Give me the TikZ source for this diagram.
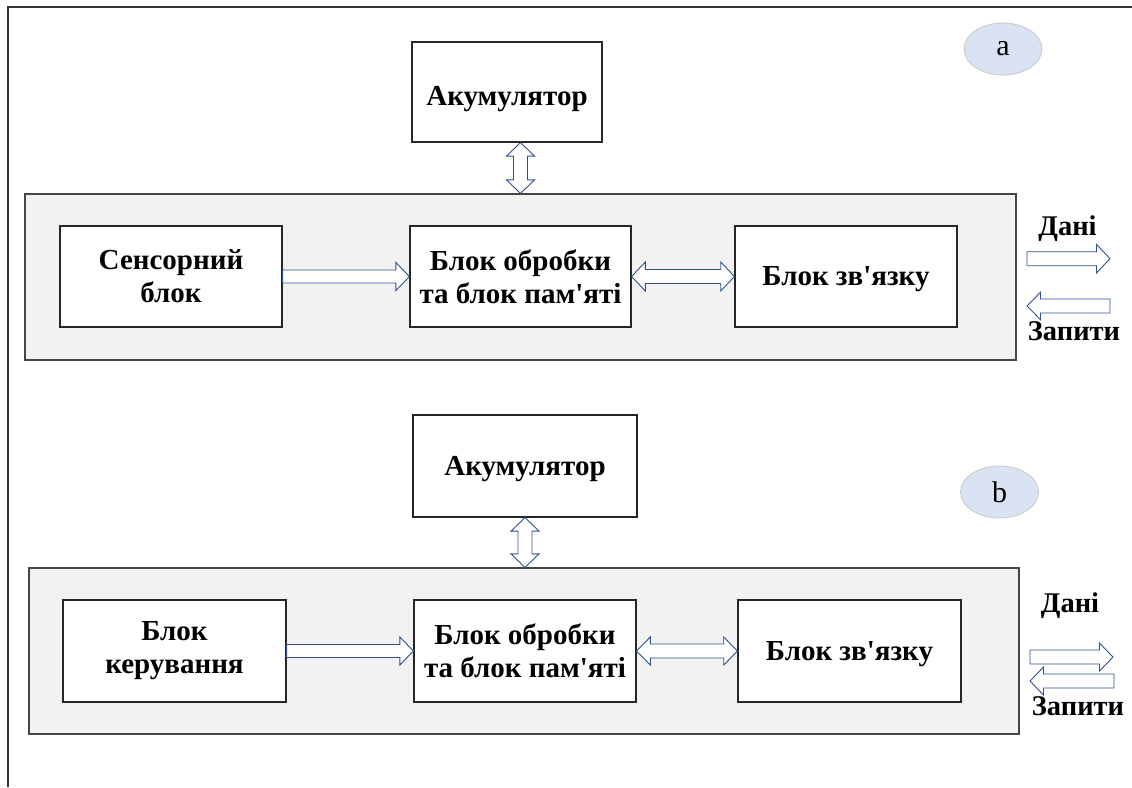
\documentclass[tikz,border=0pt]{standalone}
\usepackage{fontspec}
\setmainfont{Liberation Serif}[Ligatures=TeXOff]
\usetikzlibrary{calc,shapes.geometric}

\definecolor{arrowblue}{RGB}{47,82,143}
\definecolor{panelgrey}{RGB}{242,242,242}
\definecolor{panelline}{RGB}{70,70,70}
\definecolor{tagfill}{RGB}{218,227,243}
\definecolor{tagline}{RGB}{200,200,200}

\tikzset{
  block/.style={draw=black!85, line width=1.2pt, fill=white, inner sep=0pt,
    align=center, font=\fontsize{29}{33}\selectfont\bfseries},
  oneline/.style={text depth=0pt},
  panel/.style={draw=panelline, line width=1.2pt, fill=panelgrey, inner sep=0pt},
  tag/.style={ellipse, draw=tagline, line width=0.8pt, fill=tagfill, inner sep=0pt,
    minimum width=78pt, minimum height=52pt, font=\fontsize{30}{32}\selectfont},
  barrow/.style={draw=arrowblue, line width=0.9pt, fill=white, line join=miter},
  flowlabel/.style={anchor=base, inner sep=0pt, font=\fontsize{28.5}{32}\selectfont\bfseries},
  frameline/.style={draw=black!80, line width=1.6pt}
}

% horizontal single block arrow: #1 tail, #2 tip, #3 shaft half-height,
% #4 head half-height, #5 head length
\newcommand{\blockarrowH}[5]{%
  \draw[barrow] let \p1=(#1), \p2=(#2), \n1={sign(\x2-\x1)} in
    (\x1,\y1+#3) -- ({\x2-\n1*#5},\y1+#3) -- ({\x2-\n1*#5},\y1+#4) -- (\x2,\y1)
    -- ({\x2-\n1*#5},\y1-#4) -- ({\x2-\n1*#5},\y1-#3) -- (\x1,\y1-#3) -- cycle;}

% horizontal double block arrow between #1 and #2
\newcommand{\blockarrowHH}[5]{%
  \draw[barrow] let \p1=(#1), \p2=(#2), \n1={sign(\x2-\x1)} in
    (\x1,\y1) -- ({\x1+\n1*#5},\y1+#4) -- ({\x1+\n1*#5},\y1+#3)
    -- ({\x2-\n1*#5},\y1+#3) -- ({\x2-\n1*#5},\y1+#4) -- (\x2,\y1)
    -- ({\x2-\n1*#5},\y1-#4) -- ({\x2-\n1*#5},\y1-#3)
    -- ({\x1+\n1*#5},\y1-#3) -- ({\x1+\n1*#5},\y1-#4) -- cycle;}

% vertical double block arrow between #1 and #2
\newcommand{\blockarrowVV}[5]{%
  \draw[barrow] let \p1=(#1), \p2=(#2), \n1={sign(\y2-\y1)} in
    (\x1,\y1) -- (\x1+#4,{\y1+\n1*#5}) -- (\x1+#3,{\y1+\n1*#5})
    -- (\x1+#3,{\y2-\n1*#5}) -- (\x1+#4,{\y2-\n1*#5}) -- (\x1,\y2)
    -- (\x1-#4,{\y2-\n1*#5}) -- (\x1-#3,{\y2-\n1*#5})
    -- (\x1-#3,{\y1+\n1*#5}) -- (\x1-#4,{\y1+\n1*#5}) -- cycle;}

\begin{document}
\begin{tikzpicture}[x=1pt,y=-1pt]
  \useasboundingbox (0,0) rectangle (1132,787);

  % outer frame (top and left edges)
  \draw[frameline] (8,787) -- (8,7) -- (1132,7);

  % ---------- variant a ----------
  \node[tag] (tagA) at (1003,49) {a};
  \node[block, oneline, text height=27pt, minimum width=190pt, minimum height=100pt] (akuA) at (507,92) {Акумулятор};
  \node[panel, minimum width=991pt, minimum height=166pt] (groupA) at (520.5,277) {};
  \node[block, minimum width=222pt, minimum height=101pt] (sensA) at (171,276.5) {Сенсорний\\блок};
  \node[block, minimum width=221pt, minimum height=101pt] (procA) at (520.5,276.5) {Блок обробки\\та блок пам'яті};
  \node[block, oneline, minimum width=222pt, minimum height=101pt] (linkA) at (846,276.5) {Блок зв'язку};

  \blockarrowVV{akuA.south -| procA.north}{groupA.north -| procA.north}{7pt}{14pt}{13.5pt}
  \blockarrowH{sensA.east}{procA.west}{6.5pt}{14pt}{13.5pt}
  \blockarrowHH{procA.east}{linkA.west}{7pt}{14.5pt}{13.7pt}

  \coordinate (dataA0) at (1027,258.7);
  \coordinate (dataA1) at (1110,258.7);
  \coordinate (reqA0) at (1110,306);
  \coordinate (reqA1) at (1027,306);
  \blockarrowH{dataA0}{dataA1}{7pt}{14.3pt}{13.5pt}
  \blockarrowH{reqA0}{reqA1}{7pt}{13.7pt}{13.5pt}
  \node[flowlabel] (dataAlbl) at (1067.5,235) {Дані};
  \node[flowlabel] (reqAlbl) at (1074,340) {Запити};

  % ---------- variant b ----------
  \node[tag] (tagB) at (999.5,492) {b};
  \node[block, oneline, minimum width=224pt, minimum height=102pt] (akuB) at (525,466) {Акумулятор};
  \node[panel, minimum width=990pt, minimum height=166pt] (groupB) at (524,651) {};
  \node[block, minimum width=223pt, minimum height=102pt] (ctrlB) at (174.5,651) {Блок\\керування};
  \node[block, minimum width=222pt, minimum height=102pt] (procB) at (525,651) {Блок обробки\\та блок пам'яті};
  \node[block, oneline, minimum width=223pt, minimum height=102pt] (linkB) at (849.5,651) {Блок зв'язку};

  \blockarrowVV{akuB.south -| procB.north}{groupB.north -| procB.north}{7pt}{14pt}{13.5pt}
  \blockarrowH{ctrlB.east}{procB.west}{6.5pt}{14pt}{13.5pt}
  \blockarrowHH{procB.east}{linkB.west}{7pt}{14pt}{13.7pt}

  \coordinate (dataB0) at (1030,657);
  \coordinate (dataB1) at (1113,657);
  \coordinate (reqB0) at (1114,681);
  \coordinate (reqB1) at (1030,681);
  \blockarrowH{dataB0}{dataB1}{7pt}{14pt}{13.5pt}
  \blockarrowH{reqB0}{reqB1}{7pt}{14pt}{13.5pt}
  \node[flowlabel] (dataBlbl) at (1070,612) {Дані};
  \node[flowlabel] (reqBlbl) at (1078,715) {Запити};
\end{tikzpicture}
\end{document}
